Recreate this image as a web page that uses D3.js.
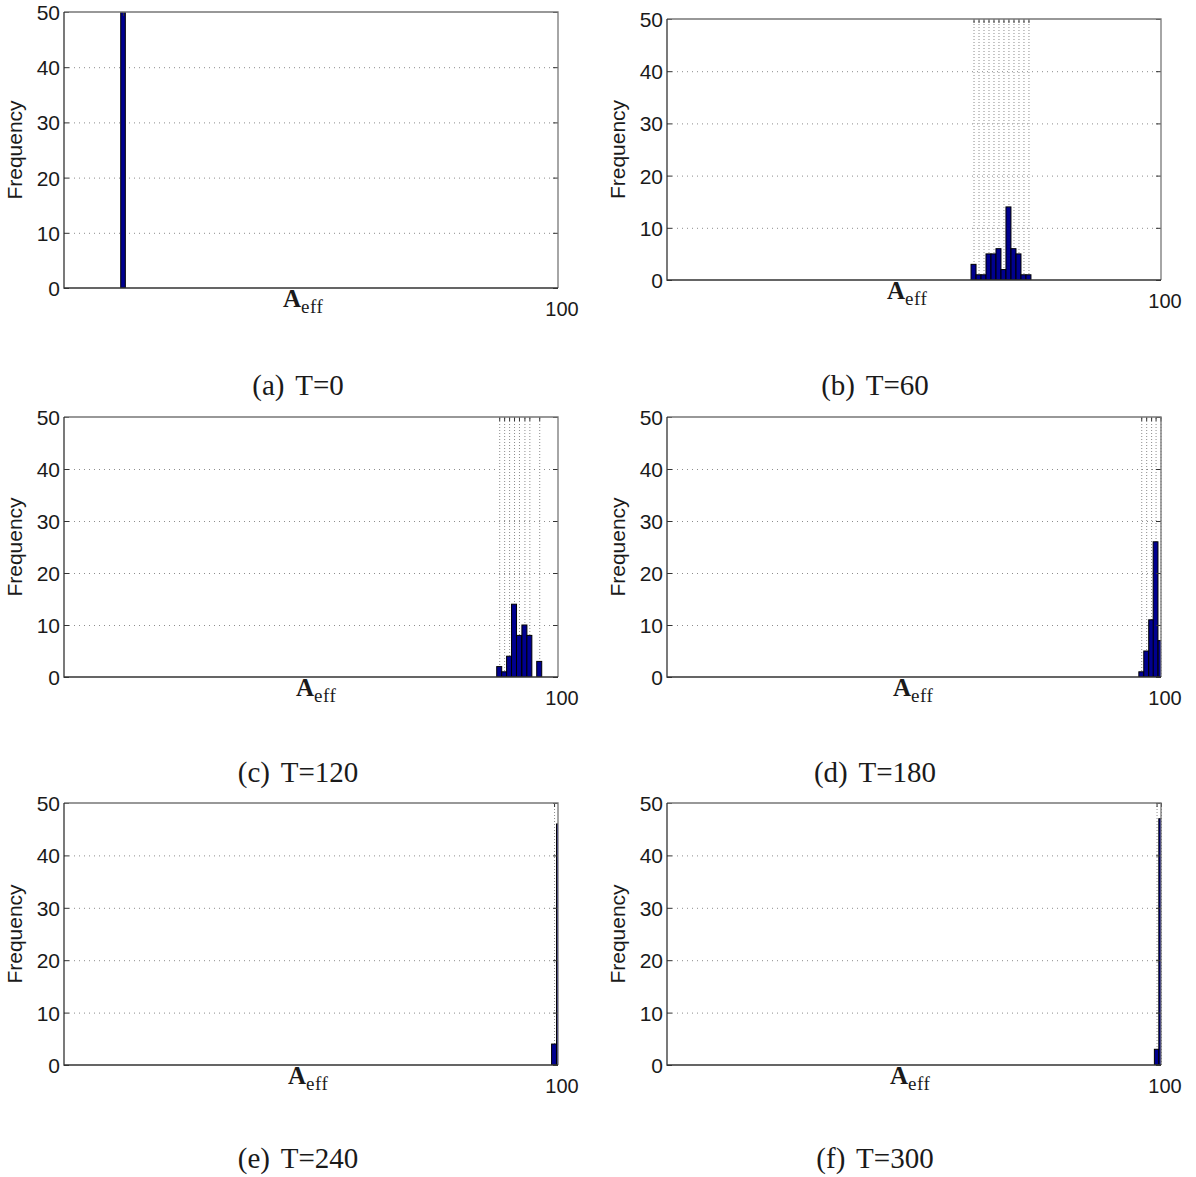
<!DOCTYPE html>
<html>
<head>
<meta charset="utf-8">
<script src="https://cdnjs.cloudflare.com/ajax/libs/d3/7.8.5/d3.min.js"></script>
<style>
  body { margin: 0; background: #fff; }
  text { font-family: Arial, "Liberation Sans", Helvetica, sans-serif; fill: #1a1a1a; }
  .serif { font-family: "Liberation Serif", "Times New Roman", serif; }
</style>
</head>
<body>
<svg id="fig" width="1196" height="1177"></svg>
<script>
const CAPTIONS = ['(a) T=0', '(b) T=60', '(c) T=120', '(d) T=180', '(e) T=240', '(f) T=300'];
const Y_TICKS = [0, 10, 20, 30, 40, 50];
const X_DOMAIN = [0, 100];
const X_LABEL = '100';

// bin centres (A_eff) and counts
const BINS_A = [11.95];
const COUNT_A = [50];
const BINS_B = [62.05, 63.06, 64.07, 65.08, 66.09, 67.1, 68.11, 69.12, 70.14, 71.15, 72.16, 73.17];
const COUNT_B = [3, 1, 1, 5, 5, 6, 2, 14, 6, 5, 1, 1];
const BINS_C = [88.1, 89.1, 90.1, 91.1, 92.1, 93.2, 94.2, 95.2, 96.2];
const COUNT_C = [2, 1, 4, 14, 8, 10, 8, 0, 3];
const BINS_D = [96.0, 97.0, 98.0, 98.9, 99.9];
const COUNT_D = [1, 5, 11, 26, 7];
const BINS_E = [99.2, 100.2];
const COUNT_E = [4, 46];
const BINS_F = [99.1, 100.0];
const COUNT_F = [3, 47];
const BIN_WIDTH = [0.93, 1.01, 1.01, 0.97, 1.0, 0.88];

const BINS = [BINS_A, BINS_B, BINS_C, BINS_D, BINS_E, BINS_F];
const COUNTS = [COUNT_A, COUNT_B, COUNT_C, COUNT_D, COUNT_E, COUNT_F];

// panel boxes, label and caption positions
var layout = [
  {x: 64,  y: 12,  w: 494, h: 276, lab: 283, cap: 298, capY: 395},
  {x: 667, y: 19,  w: 494, h: 261, lab: 887, cap: 875, capY: 395},
  {x: 64,  y: 417, w: 494, h: 260, lab: 296, cap: 298, capY: 782},
  {x: 667, y: 417, w: 494, h: 260, lab: 893, cap: 875, capY: 782},
  {x: 64,  y: 803, w: 494, h: 262, lab: 288, cap: 298, capY: 1168},
  {x: 667, y: 803, w: 494, h: 262, lab: 890, cap: 875, capY: 1168}
];

var svg = d3.select('#fig');

layout.forEach(function(L, i) {
  var g = svg.append('g').attr('transform', 'translate(' + L.x + ',' + L.y + ')');

  var x = d3.scaleLinear().domain(X_DOMAIN).range([0, L.w]);
  var y = d3.scaleLinear().domain([0, 50]).range([L.h, 0]);

  var data = BINS[i].map((c, j) => ({c: c, n: COUNTS[i][j]}));
  var bw = BIN_WIDTH[i];

  g.append('clipPath').attr('id', 'clip' + i)
    .append('rect').attr('width', L.w).attr('height', L.h);

  // ===================== grid =====================
  g.append('g')
    .call(d3.axisLeft(y).tickValues(Y_TICKS.slice(1, -1)).tickSize(-L.w).tickFormat(''))
    .call(s => s.select('.domain').remove())
    .selectAll('line')
    .attr('stroke', '#8c8c8c').attr('stroke-dasharray', '1,4');

  // vertical grid sits at the centre of every occupied bin
  var occupied = data.filter(d => d.n > 0 && d.c <= 100).map(d => d.c);

  g.append('g')
    .attr('transform', 'translate(0,' + L.h + ')')
    .call(d3.axisBottom(x).tickValues(occupied).tickSize(-L.h).tickFormat(''))
    .call(s => s.select('.domain').remove())
    .selectAll('line')
    .attr('stroke', '#8c8c8c').attr('stroke-dasharray', '1,2');

  // ===================== bars =====================
  g.append('g').attr('clip-path', 'url(#clip' + i + ')')
    .selectAll('rect')
    .data(data.filter(d => d.n > 0))
    .enter()
    .append('rect')
    .attr('x', d => x(d.c - bw / 2))
    .attr('width', d => x(d.c + bw / 2) - x(d.c - bw / 2))
    .attr('y', d => y(d.n))
    .attr('height', d => L.h - y(d.n))
    .attr('fill', '#00008f')
    .attr('stroke', '#000')
    .attr('stroke-width', 1);

  // ===================== axes =====================
  // top tick marks for the x grid
  g.append('g')
    .call(d3.axisTop(x).tickValues(occupied).tickSize(-4).tickFormat(''))
    .call(s => s.select('.domain').remove())
    .selectAll('line').attr('stroke', '#333');

  var yAxis = g.append('g')
    .call(d3.axisLeft(y).tickValues(Y_TICKS).tickSize(-5).tickPadding(4));
  yAxis.select('.domain').remove();
  yAxis.selectAll('line').attr('stroke', '#333');
  yAxis.selectAll('text').style('font-size', '21px').attr('dy', '0.36em');

  g.append('g')
    .attr('transform', 'translate(' + L.w + ',0)')
    .call(d3.axisRight(y).tickValues(Y_TICKS).tickSize(-5).tickFormat(''))
    .call(s => s.select('.domain').remove())
    .selectAll('line').attr('stroke', '#333');

  // frame
  g.append('path')
    .attr('d', 'M0,0H' + L.w + 'V' + L.h)
    .attr('fill', 'none').attr('stroke', '#777').attr('stroke-width', 1.3);
  g.append('path')
    .attr('d', 'M0,0V' + L.h + 'H' + L.w)
    .attr('fill', 'none').attr('stroke', '#333').attr('stroke-width', 1.3);

  // x tick label at the right end
  g.append('text')
    .attr('x', x(100) + 4).attr('y', L.h + 28)
    .attr('text-anchor', 'middle')
    .style('font-size', '20px')
    .text(X_LABEL);

  // y label
  g.append('text')
    .attr('transform', 'translate(-42,' + (L.h / 2) + ') rotate(-90)')
    .attr('text-anchor', 'middle')
    .style('font-size', '21px')
    .text('Frequency');

  // A_eff label
  var lab = svg.append('text').attr('class', 'serif')
    .attr('x', L.lab).attr('y', L.y + L.h + 19);
  lab.append('tspan').style('font-size', '25px').style('font-weight', 'bold').text('A');
  lab.append('tspan').attr('dy', 6).style('font-size', '19px')
    .style('letter-spacing', '0.5px').text('eff');

  // caption
  svg.append('text').attr('class', 'serif')
    .attr('x', L.cap).attr('y', L.capY)
    .attr('text-anchor', 'middle')
    .style('font-size', '29px')
    .style('word-spacing', '4px')
    .text(CAPTIONS[i]);
});
</script>
</body>
</html>
